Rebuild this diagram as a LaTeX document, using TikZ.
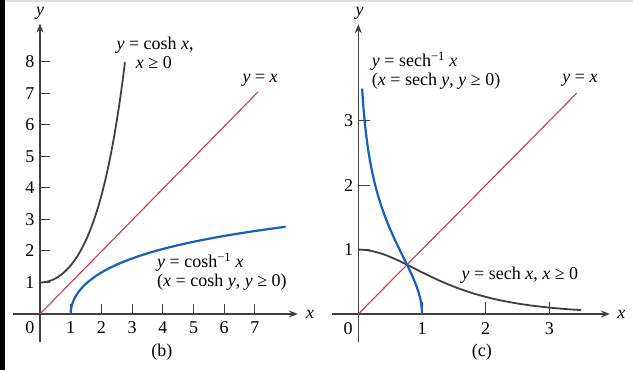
\documentclass[tikz,border=0pt]{standalone}
\usepackage{fontspec}
\setmainfont{Liberation Serif}
\usetikzlibrary{arrows.meta}

\begin{document}
\begin{tikzpicture}[
  axis/.style={line width=1.1pt, black!75},
  axisarrow/.style={axis, -{Stealth[length=9pt,width=7pt]}},
  tick/.style={line width=1pt, black!75},
  lbl/.style={font=\fontsize{18}{21}\selectfont, inner sep=0pt},
  redline/.style={line width=1.1pt, color={rgb,255:red,205;green,55;blue,80}},
  blackcurve/.style={line width=1.8pt, black!75},
  bluecurve/.style={line width=2.2pt, color={rgb,255:red,25;green,95;blue,185}}]
\useasboundingbox (0,0) rectangle (633pt,370pt);
% frame edges
\fill[black] (0,0) rectangle (5pt,370pt);
\fill[black!12] (5pt,368pt) rectangle (633pt,370pt);

% ---------- panel (b) ----------
\begin{scope}[shift={(40pt,56pt)}, x=30.7pt, y=31.5pt]
% axes
\coordinate (bO) at (0,0);
\coordinate (bxl) at (-0.88,0);
\coordinate (bxr) at (8.4,0);
\coordinate (byb) at (0,-0.89);
\coordinate (byt) at (0,9.22);
\draw[axisarrow] (bxl) -- (bxr);
\draw[axisarrow] (byb) -- (byt);
\node[lbl] (bxlab) at (8.8,0) {\textit{x}};
\node[lbl] (bylab) at (0,9.56) {\textit{y}};
\node[lbl] (bzero) at (-0.33,-0.44) {0};
% ticks
\foreach \i in {1,...,7} {
  \draw[tick] (\i,0) -- (\i,0.33);
  \node[lbl] (bx\i) at (\i,-0.44) {\i};
}
\foreach \j in {1,...,8} {
  \draw[tick] (0,\j) -- (0.33,\j);
  \node[lbl] (by\j) at (-0.33,\j) {\j};
}
% y = x
\coordinate (bline) at (7.1,7.05);
\draw[redline] (bO) -- (bline);
% y = cosh x
\draw[blackcurve] plot[domain=0:2.768, samples=80, smooth] (\x,{cosh(\x)});
% y = cosh^{-1} x
\draw[bluecurve] plot[domain=0:2.77, samples=80, smooth] ({cosh(\x)},\x);
% labels
\node[lbl] (bcosh) at (3.75,8.54) {\textit{y} = cosh \textit{x},};
\node[lbl] (bcond) at (3.71,7.97) {\textit{x} ≥ 0};
\node[lbl] (byx) at (7.17,7.43) {\textit{y} = \textit{x}};
\node[lbl, anchor=west] (bacosh) at (3.81,1.65) {\textit{y} = cosh\textsuperscript{−1} \textit{x}};
\node[lbl, anchor=west] (bacond) at (3.81,1.02) {(\textit{x} = cosh \textit{y}, \textit{y} ≥ 0)};
\node[lbl] (bcap) at (3.97,-1.21) {(b)};
\end{scope}

% ---------- panel (c) ----------
\begin{scope}[shift={(358.3pt,56pt)}, x=63.7pt, y=64.4pt]
% axes
\coordinate (cO) at (0,0);
\coordinate (cxl) at (-0.42,0);
\coordinate (cxr) at (3.95,0);
\coordinate (cyb) at (0,-0.43);
\coordinate (cyt) at (0,4.5);
\draw[axisarrow] (cxl) -- (cxr);
\draw[axisarrow] (cyb) -- (cyt);
\node[lbl] (cxlab) at (4.13,0) {\textit{x}};
\node[lbl] (cylab) at (0.02,4.67) {\textit{y}};
\node[lbl] (czero) at (-0.16,-0.22) {0};
% ticks
\foreach \i in {1,2,3} {
  \draw[tick] (\i,0) -- (\i,0.19);
  \node[lbl] (cx\i) at (\i,-0.22) {\i};
  \draw[tick] (0,\i) -- (0.19,\i);
  \node[lbl] (cy\i) at (-0.15,\i) {\i};
}
% y = x
\coordinate (cline) at (3.43,3.43);
\draw[redline] (cO) -- (cline);
% y = sech x
\draw[blackcurve] plot[domain=0:3.5, samples=80, smooth] (\x,{1/cosh(\x)});
% y = sech^{-1} x
\draw[bluecurve] plot[domain=0:3.5, samples=80, smooth] ({1/cosh(\x)},\x);
% labels
\node[lbl, anchor=west] (casech) at (0.21,3.92) {\textit{y} = sech\textsuperscript{−1} \textit{x}};
\node[lbl, anchor=west] (cacond) at (0.21,3.61) {(\textit{x} = sech \textit{y}, \textit{y} ≥ 0)};
\node[lbl] (cyx) at (3.48,3.63) {\textit{y} = \textit{x}};
\node[lbl, anchor=west] (csech) at (1.62,0.61) {\textit{y} = sech \textit{x}, \textit{x} ≥ 0};
\node[lbl] (ccap) at (1.94,-0.59) {(c)};
\end{scope}
\end{tikzpicture}
\end{document}
